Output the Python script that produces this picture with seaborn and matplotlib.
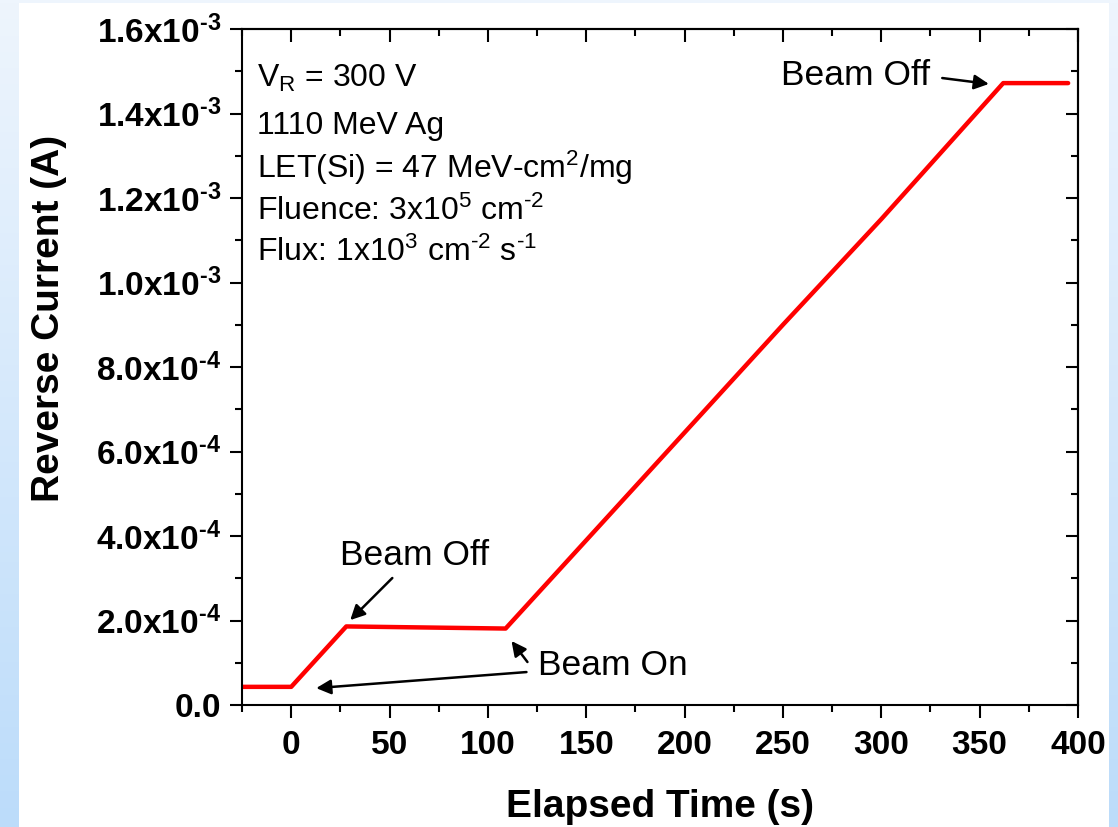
import numpy as np
import pandas as pd
import matplotlib
matplotlib.use("Agg")
import matplotlib.pyplot as plt
import seaborn as sns

# data
time_s = [-25, 0, 28, 109, 150, 200, 250, 300, 362, 395]
current_A = [4.3e-5, 4.3e-5, 1.86e-4, 1.81e-4, 3.9e-4, 6.45e-4, 9.0e-4, 1.15e-3, 1.472e-3, 1.472e-3]

H = "\u2010"  # short hyphen like the original superscripts
y_ticks = [0, 2e-4, 4e-4, 6e-4, 8e-4, 1.0e-3, 1.2e-3, 1.4e-3, 1.6e-3]
y_tick_labels = ["0.0"] + [f"{m}x10$^{{{H}{e}}}$" for m, e in
                           [("2.0", 4), ("4.0", 4), ("6.0", 4), ("8.0", 4),
                            ("1.0", 3), ("1.2", 3), ("1.4", 3), ("1.6", 3)]]
x_ticks = [0, 50, 100, 150, 200, 250, 300, 350, 400]

info_lines = ["V$_R$ = 300 V", "1110 MeV Ag", "LET(Si) = 47 MeV-cm$^2$/mg",
              f"Fluence: 3x10$^5$ cm$^{{{H}2}}$",
              f"Flux: 1x10$^3$ cm$^{{{H}2}}$ s$^{{{H}1}}$"]

df = pd.DataFrame({"t": time_s, "I": current_A})

sns.set_style("ticks")
plt.rcParams["font.family"] = ["Liberation Sans", "DejaVu Sans"]
plt.rcParams["mathtext.default"] = "regular"
plt.rcParams["text.color"] = "black"
plt.rcParams["axes.labelcolor"] = "black"
plt.rcParams["xtick.color"] = "black"
plt.rcParams["ytick.color"] = "black"
plt.rcParams["axes.edgecolor"] = "black"

fig = plt.figure(figsize=(11.18, 8.27), dpi=100)
fig.patch.set_facecolor("#eaf2fc")

# slide background: white area with blue gradient strips
bg = fig.add_axes([0, 0, 1, 1], zorder=-10)
grad = np.linspace(0, 1, 256).reshape(-1, 1)
cmap = matplotlib.colors.LinearSegmentedColormap.from_list("bl", ["#eef5fd", "#bcdcfa"])
bg.imshow(grad, aspect="auto", cmap=cmap, extent=[0, 1, 0, 1], origin="upper")
bg.add_patch(plt.Rectangle((19 / 1118, 0), (1109 - 19) / 1118, 1 - 3 / 827,
                           facecolor="white", edgecolor="none"))
bg.set_xlim(0, 1)
bg.set_ylim(0, 1)
bg.axis("off")

ax = fig.add_axes([0.2165, 0.1475, 0.9642 - 0.2165, 0.9649 - 0.1475])
sns.lineplot(data=df, x="t", y="I", ax=ax, color="#ff0000", linewidth=3.2)

ax.set_xlim(-25, 400)
ax.set_ylim(0, 1.6e-3)
ax.set_xticks(x_ticks)
ax.set_xticks(np.arange(-25, 401, 25), minor=True)
ax.set_yticks(y_ticks)
ax.set_yticklabels(y_tick_labels)
ax.set_yticks(np.arange(0, 1.61e-3, 1e-4), minor=True)
ax.tick_params(which="major", direction="out", length=9, width=1.5, labelsize=24)
ax.tick_params(axis="x", which="major", pad=9)
ax.tick_params(axis="y", which="major", pad=6)
ax.tick_params(which="minor", direction="out", length=5, width=1.5)
for lab in ax.get_xticklabels() + ax.get_yticklabels():
    lab.set_fontweight("bold")

for sp in ax.spines.values():
    sp.set_visible(True)
    sp.set_linewidth(1.5)
    sp.set_color("black")

# mirror ticks pointing inward on top and right
top = ax.secondary_xaxis("top")
top.set_xticks(x_ticks)
top.set_xticks(np.arange(-25, 401, 25), minor=True)
top.tick_params(which="major", direction="in", length=9, width=1.5, labeltop=False)
top.tick_params(which="minor", direction="in", length=5, width=1.5)
top.spines["top"].set_linewidth(1.5)
right = ax.secondary_yaxis("right")
right.set_yticks(y_ticks)
right.set_yticks(np.arange(0, 1.61e-3, 1e-4), minor=True)
right.tick_params(which="major", direction="in", length=9, width=1.5, labelright=False)
right.tick_params(which="minor", direction="in", length=5, width=1.5)
right.spines["right"].set_linewidth(1.5)

ax.set_xlabel("Elapsed Time (s)", fontsize=28, fontweight="bold", labelpad=20)
ax.set_ylabel("Reverse Current (A)", fontsize=28, fontweight="bold")
ax.yaxis.set_label_coords(-0.21, 0.572)

# info text block
y_pos = [78, 126, 168, 211, 252]
for line, yp in zip(info_lines, y_pos):
    ax.text(0.018, (705 - yp) / 676, line, transform=ax.transAxes, fontsize=23,
            ha="left", va="center")

arrow = dict(arrowstyle="-|>", color="black", lw=1.8, mutation_scale=22, shrinkA=0, shrinkB=0)

ax.text(287, 1.489e-3, "Beam Off", fontsize=25.5, ha="center", va="center")
ax.annotate("", xy=(354.7, 1.470e-3), xytext=(331, 1.484e-3), arrowprops=arrow)

ax.text(62.6, 3.55e-4, "Beam Off", fontsize=25.5, ha="center", va="center")
ax.annotate("", xy=(30.0, 2.01e-4), xytext=(51.4, 3.006e-4), arrowprops=arrow)

ax.text(163.4, 9.47e-5, "Beam On", fontsize=25.5, ha="center", va="center")
ax.annotate("", xy=(112, 1.515e-4), xytext=(120.1, 1.018e-4), arrowprops=arrow)
ax.annotate("", xy=(12.7, 4.0e-5), xytext=(119.6, 7.8e-5), arrowprops=arrow)

fig.savefig("out.png", dpi=100)
